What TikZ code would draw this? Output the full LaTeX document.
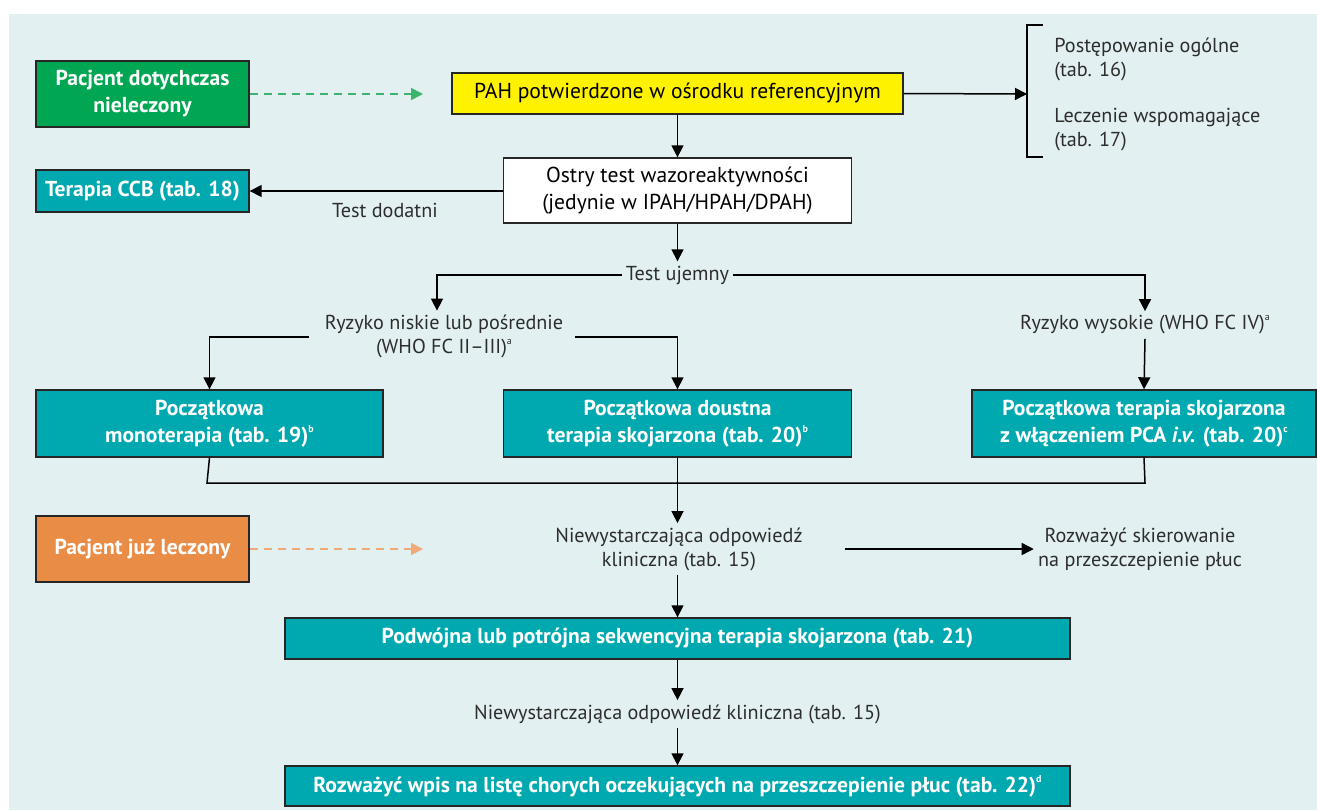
\documentclass[tikz,border=0pt]{standalone}
\usepackage{fontspec}
\setmainfont{PT Sans}
\usetikzlibrary{arrows.meta}
\definecolor{bgc}{RGB}{226,240,241}
\definecolor{tealc}{RGB}{0,168,176}
\definecolor{greenc}{RGB}{0,166,81}
\definecolor{greendash}{RGB}{60,180,110}
\definecolor{orangec}{RGB}{233,140,69}
\definecolor{orangedash}{RGB}{240,170,120}
\definecolor{yellowc}{RGB}{255,242,0}
\definecolor{txtc}{RGB}{45,45,45}
\newcommand{\supx}[1]{\raisebox{0.9ex}{\fontsize{5}{5}\selectfont #1}}
\tikzset{
  px/.style={x=0.5pt,y=-0.5pt},
  boxbase/.style={draw=black!85, line width=0.7pt, align=center, inner sep=0pt, font=\fontsize{10.8}{13.5}\selectfont},
  tealbox/.style={boxbase, fill=tealc, text=white, font=\fontsize{10.8}{13.5}\selectfont\bfseries},
  greenbox/.style={boxbase, fill=greenc, text=white, font=\fontsize{10.8}{13.5}\selectfont\bfseries},
  orangebox/.style={boxbase, fill=orangec, text=white, font=\fontsize{10.8}{13.5}\selectfont\bfseries},
  yellowbox/.style={boxbase, fill=yellowc, text=black},
  whitebox/.style={boxbase, fill=white, text=black},
  lbl/.style={align=center, text=txtc, inner sep=2pt, font=\fontsize{10.1}{12}\selectfont},
  conn/.style={line width=0.75pt, black},
  arr/.style={conn, -{Triangle[length=6pt,width=6pt]}},
  gdash/.style={line width=0.9pt, greendash, dash pattern=on 4pt off 3pt, -{Triangle[length=6pt,width=6pt]}},
  odash/.style={line width=0.9pt, orangedash, dash pattern=on 4pt off 3pt, -{Triangle[length=6pt,width=6pt]}}
}
\begin{document}
\begin{tikzpicture}[px]
\useasboundingbox (0,0) rectangle (1317,810);
\fill[white] (0,0) rectangle (1317,810);
\fill[bgc] (9,14) rectangle (1317,810);

% boxes
\node[greenbox, minimum width=106.5pt, minimum height=33pt] (green) at (142.5,94) {Pacjent dotychczas\\nieleczony};
\node[yellowbox, minimum width=225.5pt, minimum height=20.5pt] (yellow) at (677.5,93.5) {PAH potwierdzone w ośrodku referencyjnym};
\node[whitebox, minimum width=174pt, minimum height=32.5pt] (white) at (677.5,190.5) {Ostry test wazoreaktywności\\(jedynie w IPAH/HPAH/DPAH)};
\node[tealbox, minimum width=106.5pt, minimum height=21pt] (ccb) at (142.5,191) {Terapia CCB (tab. 18)};
\node[tealbox, minimum width=173.5pt, minimum height=33.5pt] (mono) at (209.5,423.5) {Początkowa\\monoterapia (tab. 19)\supx{b}};
\node[tealbox, minimum width=174pt, minimum height=33.5pt] (mid) at (677.5,423.5) {Początkowa doustna\\terapia skojarzona (tab. 20)\supx{b}};
\node[tealbox, minimum width=172pt, minimum height=33.5pt] (right) at (1144,423.5) {Początkowa terapia skojarzona\\z włączeniem PCA \textit{i.v.} (tab. 20)\supx{c}};
\node[orangebox, minimum width=106.5pt, minimum height=33pt] (orange) at (142.5,549) {Pacjent już leczony};
\node[tealbox, minimum width=392.5pt, minimum height=20.5pt] (podw) at (677.5,638.5) {Podwójna lub potrójna sekwencyjna terapia skojarzona (tab. 21)};
\node[tealbox, minimum width=392.5pt, minimum height=20pt] (last) at (677.5,786) {Rozważyć wpis na listę chorych oczekujących na przeszczepienie płuc (tab. 22)\supx{d}};

% labels
\node[lbl] (testdod) at (385,210) {Test dodatni};
\node[lbl] (testuj) at (677.5,275) {Test ujemny};
\node[lbl] (ryzlow) at (444,336.5) {Ryzyko niskie lub pośrednie\\(WHO FC II–III)\supx{a}};
\node[lbl] (ryzhigh) at (1145,325) {Ryzyko wysokie (WHO FC IV)\supx{a}};
\node[lbl] (niew1) at (679,549) {Niewystarczająca odpowiedź\\kliniczna (tab. 15)};
\node[lbl] (rozw) at (1140,549) {Rozważyć skierowanie\\na przeszczepienie płuc};
\node[lbl] (niew2) at (677.5,714) {Niewystarczająca odpowiedź kliniczna (tab. 15)};
\node[lbl, anchor=west, align=left] (post) at (1050,59) {Postępowanie ogólne\\(tab. 16)};
\node[lbl, anchor=west, align=left] (lecz) at (1050,130) {Leczenie wspomagające\\(tab. 17)};

% coordinates
\coordinate (brk) at (1027,94);
\coordinate (gend) at (423,94);
\coordinate (oend) at (423,549);
\coordinate (tl) at (437,275);
\coordinate (tr) at (1145,275);
\coordinate (rl) at (309,337);
\coordinate (rr) at (575,337);
\coordinate (bl) at (207,483);
\coordinate (br) at (1145,483);

% bracket
\draw[conn] (1043,25) -- (1027,25) -- (1027,157) -- (1043,157);

% connectors
\draw[gdash] (green.east) -- (gend);
\draw[odash] (orange.east) -- (oend);
\draw[arr] (yellow.east) -- (brk);
\draw[arr] (yellow.south) -- (white.north);
\draw[arr] (white.west |- ccb.east) -- (ccb.east);
\draw[arr] (white.south) -- (testuj.north);
\draw[arr] (testuj.west) -- (tl) -- (tl |- ryzlow.north);
\draw[arr] (testuj.east) -- (tr) -- (ryzhigh.north);
\draw[arr] (rl) -| (mono.north);
\draw[arr] (rr) -| (mid.north);
\draw[arr] (ryzhigh.south) -- (right.north);
\draw[conn] (mono.south) -- (bl) -- (br) -- (right.south);
\draw[arr] (mid.south) -- (mid.south |- niew1.north);
\draw[arr, shorten <=19pt] (niew1.east) -- (rozw.west);
\draw[arr] (podw.north |- niew1.south) -- (podw.north);
\draw[arr] (podw.south) -- (niew2.north);
\draw[arr] (niew2.south) -- (last.north);
\end{tikzpicture}
\end{document}
